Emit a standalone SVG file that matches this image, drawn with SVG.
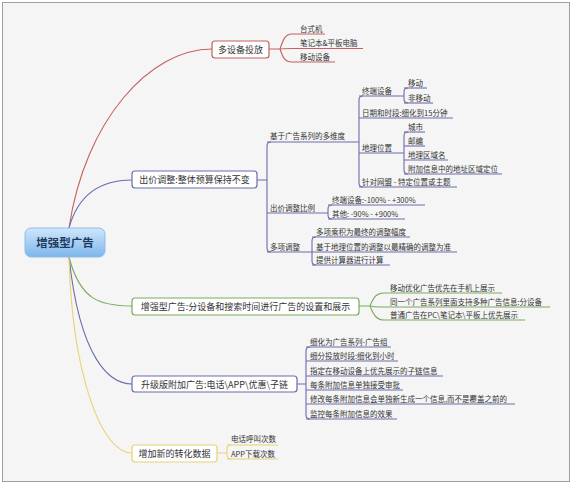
<svg xmlns="http://www.w3.org/2000/svg" width="574" height="485" viewBox="0 0 574 485">
<defs>
<linearGradient id="cg" x1="0" y1="0" x2="0" y2="1">
<stop offset="0" stop-color="#cfe7fc"/>
<stop offset="1" stop-color="#7db6ec"/>
</linearGradient>
</defs>
<style>
text{font-family:"Noto Sans CJK SC","Noto Sans",sans-serif;fill:#333}
.t{font-size:7.5px}
.b{font-size:9px;text-anchor:middle}
.c{font-size:11.5px;font-weight:bold;text-anchor:middle;fill:#1f3a5c}
.ln{fill:none;stroke-width:1.1}
.r{stroke:#c46060}
.p{stroke:#6c6cad}
.g{stroke:#7aab5e}
.y{stroke:#e8d274}
.box{fill:#fff;stroke-width:1.2}
</style>
<rect x="0" y="0" width="574" height="485" fill="#fff"/>
<rect x="2.5" y="2.5" width="567" height="479" fill="#f5f5f5" stroke="#a0a0a0"/>

<g id="connectors">
<path class="ln r" d="M69,228 C85,120 150,49 212,49"/>
<path class="ln p" d="M69,228 C78,195 100,180 132,180"/>
<path class="ln g" d="M69,257 C80,300 100,306 132,306"/>
<path class="ln p" d="M69,257 C80,360 110,384 132,384"/>
<path class="ln y" d="M69,257 C72,370 100,453 132,453"/>
<!-- red fork -->
<path class="ln r" d="M269,49 H280 M280,49 C283,40 285,34 292,34 M280,49 C283,48.5 286,48.5 292,48.5 M280,49 C283,58 285,62 292,62"/>
<!-- purple tree 1 -->
<path class="ln p" d="M257,180 H267 M271,142 Q267,142 267,146 V248 Q267,252 271,252"/>
<path class="ln p" d="M363,96 Q359,96 359,100 V183 Q359,187 363,187"/>
<path class="ln p" d="M408,88 Q404,88 404,92 V99 Q404,103 408,103"/>
<path class="ln p" d="M408,132 Q404,132 404,136 V170 Q404,174 408,174"/>
<path class="ln p" d="M332,205 Q328,205 328,209 V215 Q328,219 332,219"/>
<path class="ln p" d="M316,237 Q312,237 312,241 V261 Q312,265 316,265"/>
<!-- green fork -->
<path class="ln g" d="M359,306 H370 M370,306 C374,296 377,293 384,293 M370,306 C374,307 377,307 384,307 M370,306 C374,316 377,320 384,320"/>
<!-- purple tree 2 -->
<path class="ln p" d="M297,384 H306 M310,347 Q306,347 306,351 V415 Q306,419 310,419"/>
<!-- yellow tree -->
<path class="ln y" d="M217,453 H227 M231,445 Q227,445 227,449 V455 Q227,459 231,459"/>
</g>

<g id="center">
<rect x="25" y="228" width="80" height="29" rx="6" fill="url(#cg)" stroke="#8fbde6"/>
<text class="c" x="65" y="247">增强型广告</text>
</g>

<g id="n-duoshebei">
<rect class="box r" x="212" y="41" width="57" height="17" rx="3"/>
<text class="b" x="240.5" y="52.5">多设备投放</text>
</g>
<g id="n-taishiji"><text class="t" x="300" y="32">台式机</text><path class="ln r" d="M292,34 H325"/></g>
<g id="n-bijiben"><text class="t" x="300" y="46">笔记本&amp;平板电脑</text><path class="ln r" d="M292,48.5 H363"/></g>
<g id="n-yidongshebei"><text class="t" x="300" y="60">移动设备</text><path class="ln r" d="M292,62 H335"/></g>

<g id="n-chujia">
<rect class="box p" x="132" y="171" width="125" height="17" rx="3"/>
<text class="b" x="194.5" y="182.5">出价调整:整体预算保持不变</text>
</g>
<g id="n-jiyu"><text class="t" x="270" y="139">基于广告系列的多维度</text><path class="ln p" d="M267,142 H359"/></g>
<g id="n-zhongduan"><text class="t" x="362" y="93.5">终端设备</text><path class="ln p" d="M359,96 H404"/></g>
<g id="n-yidong"><text class="t" x="408" y="85.5">移动</text><path class="ln p" d="M404,88 H427"/></g>
<g id="n-feiyidong"><text class="t" x="408" y="100.5">非移动</text><path class="ln p" d="M404,103 H433"/></g>
<g id="n-riqi"><text class="t" x="362" y="115.5">日期和时段:细化到15分钟</text><path class="ln p" d="M359,118 H453"/></g>
<g id="n-dili"><text class="t" x="362" y="150.5">地理位置</text><path class="ln p" d="M359,153 H404"/></g>
<g id="n-chengshi"><text class="t" x="408" y="129.5">城市</text><path class="ln p" d="M404,132 H425"/></g>
<g id="n-youbian"><text class="t" x="408" y="143.5">邮编</text><path class="ln p" d="M404,146 H425"/></g>
<g id="n-quyu"><text class="t" x="408" y="157.5">地理区域名</text><path class="ln p" d="M404,160 H448"/></g>
<g id="n-fujia"><text class="t" x="408" y="171.5">附加信息中的地址区域定位</text><path class="ln p" d="M404,174 H502"/></g>
<g id="n-wangmeng"><text class="t" x="362" y="184.5">针对网盟 - 特定位置或主题</text><path class="ln p" d="M359,187 H457"/></g>
<g id="n-bili"><text class="t" x="270" y="210.5">出价调整比例</text><path class="ln p" d="M267,213 H328"/></g>
<g id="n-zdsb"><text class="t" x="332" y="202.5">终端设备:-100% - +300%</text><path class="ln p" d="M328,205 H425"/></g>
<g id="n-qita"><text class="t" x="332" y="216.5">其他: -90% - +900%</text><path class="ln p" d="M328,219 H405"/></g>
<g id="n-duoxiang"><text class="t" x="270" y="249.5">多项调整</text><path class="ln p" d="M267,252 H312"/></g>
<g id="n-chengji"><text class="t" x="316" y="234.5">多项乘积为最终的调整幅度</text><path class="ln p" d="M312,237 H410"/></g>
<g id="n-jingque"><text class="t" x="316" y="249.5">基于地理位置的调整以最精确的调整为准</text><path class="ln p" d="M312,252 H457"/></g>
<g id="n-jisuanqi"><text class="t" x="316" y="262.5">提供计算器进行计算</text><path class="ln p" d="M312,265 H390"/></g>

<g id="n-zengqiang">
<rect class="box g" x="132" y="298" width="227" height="17" rx="3"/>
<text class="b" x="245.5" y="309.5">增强型广告:分设备和搜索时间进行广告的设置和展示</text>
</g>
<g id="n-shouji"><text class="t" x="390" y="290.5">移动优化广告优先在手机上展示</text><path class="ln g" d="M384,293 H502"/></g>
<g id="n-duozhong"><text class="t" x="390" y="304.5">同一个广告系列里面支持多种广告信息:分设备</text><path class="ln g" d="M384,307 H550"/></g>
<g id="n-putong"><text class="t" x="390" y="317.5">普通广告在PC\笔记本\平板上优先展示</text><path class="ln g" d="M384,320 H525"/></g>

<g id="n-shengji">
<rect class="box p" x="132" y="376" width="165" height="16" rx="3"/>
<text class="b" x="214.5" y="387.5">升级版附加广告:电话\APP\优惠\子链</text>
</g>
<g id="n-xihua"><text class="t" x="310" y="344.5">细化为广告系列-广告组</text><path class="ln p" d="M306,347 H391"/></g>
<g id="n-shiduan"><text class="t" x="310" y="358.5">细分投放时段:细化到小时</text><path class="ln p" d="M306,361 H398"/></g>
<g id="n-zilian"><text class="t" x="310" y="373.5">指定在移动设备上优先展示的子链信息</text><path class="ln p" d="M306,376 H443"/></g>
<g id="n-shenpi"><text class="t" x="310" y="387.5">每条附加信息单独接受审批</text><path class="ln p" d="M306,390 H403"/></g>
<g id="n-xiugai"><text class="t" x="310" y="401.5">修改每条附加信息会单独新生成一个信息,而不是覆盖之前的</text><path class="ln p" d="M306,404 H515"/></g>
<g id="n-jiankong"><text class="t" x="310" y="416.5">监控每条附加信息的效果</text><path class="ln p" d="M306,419 H397"/></g>

<g id="n-zhuanhua">
<rect class="box y" x="132" y="445" width="85" height="17" rx="3"/>
<text class="b" x="174.5" y="456.5">增加新的转化数据</text>
</g>
<g id="n-dianhua"><text class="t" x="231" y="442">电话呼叫次数</text><path class="ln y" d="M227,445 H278"/></g>
<g id="n-app"><text class="t" x="231" y="456.5">APP下载次数</text><path class="ln y" d="M227,459 H278"/></g>
</svg>
